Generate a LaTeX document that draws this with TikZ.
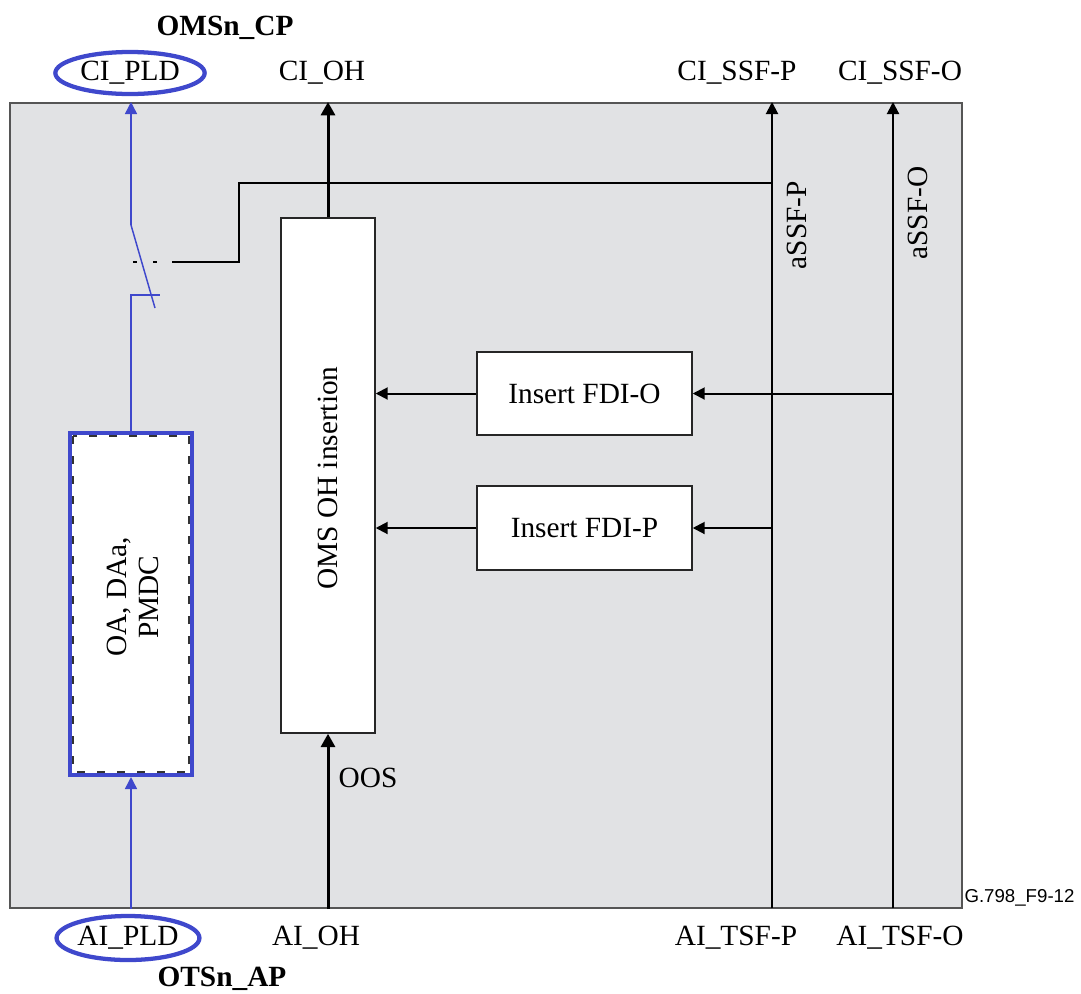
\documentclass[tikz,border=0pt]{standalone}
\usepackage{fontspec}
\setmainfont{Liberation Serif}
\newfontfamily\figsans{Liberation Sans}
\usetikzlibrary{arrows.meta,shapes.geometric}

\definecolor{pldblue}{RGB}{63,72,204}
\definecolor{panelgray}{RGB}{225,226,228}
\definecolor{framegray}{RGB}{85,85,85}

\tikzset{every picture/.style={line width=0.75pt}}
\tikzset{
  lbl/.style={font=\fontsize{22}{24}\selectfont, inner sep=0pt},
  boldlbl/.style={font=\bfseries\fontsize{22}{24}\selectfont, inner sep=0pt},
  fnbox/.style={draw=black!85, fill=white, line width=1.1pt, inner sep=0pt, font=\fontsize{22}{24}\selectfont},
  pldring/.style={ellipse, draw=pldblue, line width=3.2pt, inner sep=0pt},
  pldwire/.style={draw=pldblue, line width=1.1pt},
  sig/.style={draw=black, line width=1.5pt},
  tip/.style={-{Triangle[length=9pt,width=9pt]}},
  bigtip/.style={-{Triangle[length=10pt,width=10.5pt]}}
}

\begin{document}
\begin{tikzpicture}[x=0.75pt,y=0.75pt,yscale=-1]
\useasboundingbox (0,0) rectangle (1081,993);

%Panel
\node [draw=framegray, fill=panelgray, line width=1.5pt, inner sep=0pt, minimum width=714pt, minimum height=603.75pt] (frame) at (486,505.5) {};

%Top labels
\node [boldlbl] (cp) at (225,28) {OMSn\_CP};
\node [lbl, pldring, minimum width=112pt, minimum height=31.5pt] (cipld) at (130,73) {CI\_PLD};
\node [lbl] (cioh) at (322,73) {CI\_OH};
\node [lbl] (cissfp) at (737,73) {CI\_SSF-P};
\node [lbl] (cissfo) at (900,73) {CI\_SSF-O};

%Bottom labels
\node [lbl, pldring, minimum width=103.5pt, minimum height=33pt] (aipld) at (128,938) {AI\_PLD};
\node [lbl] (aioh) at (316,938) {AI\_OH};
\node [lbl] (aitsfp) at (736,938) {AI\_TSF-P};
\node [lbl] (aitsfo) at (900,938) {AI\_TSF-O};
\node [boldlbl] (ap) at (222,979) {OTSn\_AP};
\node [font=\figsans\fontsize{14}{16}\selectfont, inner sep=0pt, anchor=west] (figid) at (964,898) {G.798\_F9-12};

%Function boxes
\node [fnbox, draw=pldblue, line width=3pt, minimum width=91.5pt, minimum height=256.5pt] (oadaa) at (131,604) {};
\node [lbl, rotate=90, align=center] (oadaatxt) at (133,597) {OA, DAa,\\PMDC};
\draw [dash pattern=on 6pt off 9pt, line width=1.5pt, black!80] ([shift={(5,5)}]oadaa.north west) rectangle ([shift={(-5,-5)}]oadaa.south east);

\node [fnbox, minimum width=70.5pt, minimum height=386.25pt] (omsoh) at (328,475.5) {};
\node [lbl, rotate=90] (omsohtxt) at (328,478) {OMS OH insertion};

\node [fnbox, minimum width=161.25pt, minimum height=62.25pt] (fdio) at (584.5,393.5) {Insert FDI-O};
\node [fnbox, minimum width=161.25pt, minimum height=63pt] (fdip) at (584.5,528) {Insert FDI-P};

%Signal lines
\coordinate (ssfp) at (772,908);
\coordinate (ssfo) at (893,908);
\coordinate (swtop) at (131,225);
\coordinate (swend) at (155,308);
\coordinate (swcon) at (160,295);
\coordinate (ctlend) at (172,262);
\coordinate (ctlbend) at (239,183);

\draw [sig, tip] (ssfp) -- (ssfp |- frame.north);
\draw [sig, tip] (ssfo) -- (ssfo |- frame.north);
\node [lbl, rotate=90] (assfp) at (797,225) {aSSF-P};
\node [lbl, rotate=90] (assfo) at (918,213) {aSSF-O};

\draw [sig, tip] (ssfo |- fdio.east) -- (fdio.east);
\draw [sig, tip] (ssfp |- fdip.east) -- (fdip.east);
\draw [sig, tip] (fdio.west) -- (fdio.west -| omsoh.east);
\draw [sig, tip] (fdip.west) -- (fdip.west -| omsoh.east);

\draw [sig, line width=2.25pt, bigtip] (omsoh.north) -- (omsoh.north |- frame.north);
\draw [sig, line width=2.25pt, bigtip] (omsoh.south |- frame.south) -- (omsoh.south);
\node [lbl] (oos) at (368,778) {OOS};

%Switch
\draw [pldwire, tip] (swtop) -- (swtop |- frame.north);
\draw [pldwire] (swtop) -- (swend);
\draw [pldwire] (oadaa.north) |- (swcon);
\draw [pldwire, tip] (oadaa.south |- frame.south) -- (oadaa.south);

%Switch control
\draw [line width=1.2pt, dash pattern=on 3pt off 12pt] (133,262) -- (ctlend);
\draw [line width=1.2pt] (ctlend) -| (ctlbend) -- (ctlbend -| ssfp);

\end{tikzpicture}
\end{document}
